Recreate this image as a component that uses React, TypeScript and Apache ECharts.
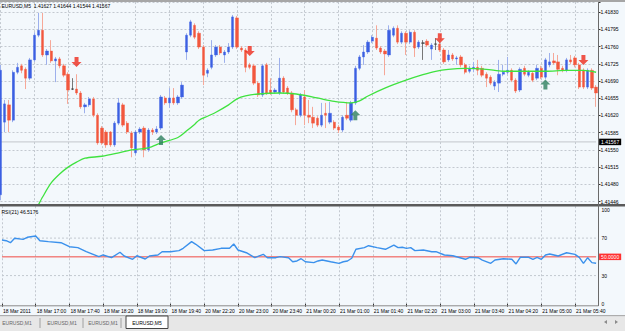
import React, { useEffect, useRef } from 'react';
import * as echarts from 'echarts';

// ---- Instrument / header ----
const SYMBOL = 'EURUSD,M5';
const LAST_OHLC = ['1.41627', '1.41644', '1.41544', '1.41567'];
const BID_PRICE = 1.41567;
const RSI_TITLE = 'RSI(21)';
const RSI_LAST = '46.5176';
const RSI_LEVEL = 50;

// ---- Axes ----
const TIME_LABELS = [
  '18 Mar 2011', '18 Mar 17:00', '18 Mar 17:40', '18 Mar 18:20', '18 Mar 19:00', '18 Mar 19:40',
  '20 Mar 22:20', '20 Mar 23:00', '20 Mar 23:40', '21 Mar 00:20', '21 Mar 01:00', '21 Mar 01:40',
  '21 Mar 02:20', '21 Mar 03:00', '21 Mar 03:40', '21 Mar 04:20', '21 Mar 05:00', '21 Mar 05:40',
];
const BARS_PER_LABEL = 8;
const PRICE_TICK_LABELS = [
  '1.41446', '1.41480', '1.41515', '1.41550', '1.41585', '1.41620',
  '1.41655', '1.41690', '1.41725', '1.41760', '1.41795', '1.41830',
];
const PRICE_BASE = 1.41446; // lowest labelled level
const PRICE_STEP = 34.9; // points between labelled levels
const PRICE_TOP = 404; // points above base at panel top
const RSI_TICK_LABELS = [0, 30, 70, 100];
const RSI_DASHED_LEVELS = [30, 70];

// ---- 5-minute bars ----
const OPEN = [
  1.41460, 1.41607, 1.41642, 1.41611, 1.41708, 1.41721, 1.41714, 1.41696, 1.41733, 1.41783,
  1.41793, 1.41743, 1.41751, 1.41731, 1.41735, 1.41721, 1.41704, 1.41674, 1.41674, 1.41666,
  1.41638, 1.41642, 1.41654, 1.41621, 1.41595, 1.41587, 1.41587, 1.41561, 1.41605, 1.41642,
  1.41605, 1.41585, 1.41545, 1.41587, 1.41595, 1.41551, 1.41591, 1.41587, 1.41595, 1.41656,
  1.41646, 1.41656, 1.41646, 1.41658, 1.41749, 1.41783, 1.41803, 1.41787, 1.41759, 1.41706,
  1.41718, 1.41743, 1.41759, 1.41743, 1.41749, 1.41759, 1.41818, 1.41757, 1.41753, 1.41723,
  1.41721, 1.41686, 1.41662, 1.41723, 1.41672, 1.41668, 1.41666, 1.41696, 1.41676, 1.41666,
  1.41632, 1.41621, 1.41658, 1.41621, 1.41617, 1.41615, 1.41601, 1.41625, 1.41607, 1.41607,
  1.41597, 1.41591, 1.41621, 1.41611, 1.41646, 1.41716, 1.41739, 1.41749, 1.41771, 1.41777,
  1.41757, 1.41751, 1.41743, 1.41783, 1.41797, 1.41769, 1.41787, 1.41769, 1.41789, 1.41759,
  1.41767, 1.41771, 1.41755, 1.41765, 1.41765, 1.41753, 1.41733, 1.41743, 1.41735, 1.41739,
  1.41723, 1.41710, 1.41716, 1.41718, 1.41716, 1.41704, 1.41698, 1.41680, 1.41686, 1.41704,
  1.41708, 1.41712, 1.41692, 1.41672, 1.41716, 1.41702, 1.41706, 1.41696, 1.41716, 1.41698,
  1.41723, 1.41731, 1.41729, 1.41716, 1.41712, 1.41733, 1.41737, 1.41723, 1.41712, 1.41678,
  1.41712, 1.41678,
];
const HIGH = [
  1.41723, 1.41652, 1.41652, 1.41712, 1.41727, 1.41725, 1.41718, 1.41737, 1.41789, 1.41828,
  1.41828, 1.41755, 1.41773, 1.41739, 1.41739, 1.41725, 1.41708, 1.41696, 1.41704, 1.41670,
  1.41646, 1.41658, 1.41658, 1.41625, 1.41599, 1.41591, 1.41589, 1.41609, 1.41656, 1.41646,
  1.41609, 1.41589, 1.41591, 1.41597, 1.41599, 1.41595, 1.41595, 1.41599, 1.41662, 1.41660,
  1.41676, 1.41676, 1.41662, 1.41688, 1.41787, 1.41814, 1.41807, 1.41791, 1.41763, 1.41716,
  1.41773, 1.41763, 1.41763, 1.41753, 1.41767, 1.41824, 1.41822, 1.41761, 1.41757, 1.41727,
  1.41725, 1.41690, 1.41725, 1.41727, 1.41696, 1.41676, 1.41737, 1.41700, 1.41680, 1.41670,
  1.41636, 1.41666, 1.41672, 1.41652, 1.41638, 1.41619, 1.41646, 1.41646, 1.41648, 1.41611,
  1.41601, 1.41621, 1.41648, 1.41650, 1.41721, 1.41743, 1.41763, 1.41773, 1.41783, 1.41803,
  1.41761, 1.41755, 1.41803, 1.41801, 1.41803, 1.41791, 1.41791, 1.41793, 1.41793, 1.41773,
  1.41773, 1.41775, 1.41767, 1.41777, 1.41769, 1.41757, 1.41753, 1.41747, 1.41741, 1.41743,
  1.41727, 1.41721, 1.41729, 1.41733, 1.41721, 1.41708, 1.41702, 1.41692, 1.41733, 1.41723,
  1.41739, 1.41716, 1.41696, 1.41718, 1.41721, 1.41712, 1.41710, 1.41723, 1.41721, 1.41737,
  1.41747, 1.41747, 1.41743, 1.41721, 1.41737, 1.41743, 1.41741, 1.41727, 1.41716, 1.41716,
  1.41716, 1.41682,
];
const LOW = [
  1.41449, 1.41587, 1.41587, 1.41607, 1.41704, 1.41706, 1.41674, 1.41692, 1.41729, 1.41779,
  1.41739, 1.41723, 1.41727, 1.41688, 1.41716, 1.41698, 1.41644, 1.41672, 1.41662, 1.41634,
  1.41625, 1.41638, 1.41617, 1.41561, 1.41561, 1.41555, 1.41557, 1.41557, 1.41601, 1.41597,
  1.41583, 1.41536, 1.41540, 1.41583, 1.41536, 1.41547, 1.41581, 1.41583, 1.41591, 1.41642,
  1.41636, 1.41642, 1.41642, 1.41654, 1.41733, 1.41779, 1.41775, 1.41755, 1.41682, 1.41698,
  1.41714, 1.41739, 1.41743, 1.41727, 1.41745, 1.41755, 1.41755, 1.41749, 1.41708, 1.41714,
  1.41682, 1.41658, 1.41658, 1.41662, 1.41662, 1.41664, 1.41662, 1.41664, 1.41662, 1.41627,
  1.41601, 1.41617, 1.41601, 1.41605, 1.41595, 1.41597, 1.41597, 1.41595, 1.41603, 1.41591,
  1.41585, 1.41587, 1.41611, 1.41607, 1.41642, 1.41712, 1.41723, 1.41745, 1.41767, 1.41753,
  1.41745, 1.41702, 1.41739, 1.41779, 1.41765, 1.41765, 1.41743, 1.41765, 1.41739, 1.41755,
  1.41733, 1.41759, 1.41733, 1.41753, 1.41749, 1.41725, 1.41729, 1.41731, 1.41723, 1.41718,
  1.41704, 1.41706, 1.41708, 1.41702, 1.41698, 1.41678, 1.41682, 1.41672, 1.41668, 1.41700,
  1.41704, 1.41688, 1.41666, 1.41668, 1.41700, 1.41698, 1.41688, 1.41692, 1.41694, 1.41694,
  1.41718, 1.41723, 1.41702, 1.41708, 1.41708, 1.41725, 1.41718, 1.41674, 1.41674, 1.41674,
  1.41672, 1.41638,
];
const CLOSE = [
  1.41712, 1.41644, 1.41611, 1.41708, 1.41718, 1.41712, 1.41696, 1.41733, 1.41783, 1.41793,
  1.41743, 1.41751, 1.41731, 1.41735, 1.41721, 1.41702, 1.41672, 1.41674, 1.41666, 1.41638,
  1.41642, 1.41654, 1.41621, 1.41565, 1.41565, 1.41561, 1.41561, 1.41605, 1.41646, 1.41601,
  1.41587, 1.41555, 1.41587, 1.41593, 1.41551, 1.41591, 1.41587, 1.41593, 1.41658, 1.41646,
  1.41656, 1.41646, 1.41658, 1.41682, 1.41783, 1.41810, 1.41779, 1.41759, 1.41702, 1.41712,
  1.41743, 1.41759, 1.41747, 1.41749, 1.41759, 1.41820, 1.41759, 1.41753, 1.41718, 1.41718,
  1.41686, 1.41662, 1.41721, 1.41666, 1.41666, 1.41672, 1.41696, 1.41668, 1.41666, 1.41632,
  1.41621, 1.41662, 1.41621, 1.41617, 1.41605, 1.41601, 1.41621, 1.41621, 1.41625, 1.41595,
  1.41591, 1.41617, 1.41615, 1.41646, 1.41716, 1.41739, 1.41749, 1.41769, 1.41779, 1.41757,
  1.41749, 1.41745, 1.41793, 1.41797, 1.41769, 1.41787, 1.41769, 1.41789, 1.41757, 1.41769,
  1.41767, 1.41763, 1.41763, 1.41765, 1.41753, 1.41729, 1.41743, 1.41735, 1.41737, 1.41723,
  1.41708, 1.41716, 1.41718, 1.41712, 1.41702, 1.41696, 1.41686, 1.41688, 1.41704, 1.41708,
  1.41712, 1.41692, 1.41670, 1.41714, 1.41704, 1.41708, 1.41692, 1.41716, 1.41698, 1.41733,
  1.41729, 1.41727, 1.41714, 1.41712, 1.41733, 1.41729, 1.41723, 1.41678, 1.41678, 1.41712,
  1.41676, 1.41666,
];

// ---- Moving average (bar index, price) ----
const MA_POINTS: [number, number][] = [
  [9, 1.41440], [10, 1.41456], [12, 1.41484], [14, 1.41502], [16, 1.41516], [18, 1.41526],
  [20, 1.41534], [24, 1.41538], [28, 1.41545], [31, 1.41551], [35, 1.41555], [38, 1.41565],
  [42, 1.41576], [44, 1.41589], [46, 1.41603], [47, 1.41611], [49, 1.41619], [51, 1.41627],
  [54, 1.41642], [56, 1.41654], [58, 1.41660], [61, 1.41664], [66, 1.41666], [70, 1.41664],
  [75, 1.41656], [79, 1.41649], [83, 1.41646], [85, 1.41650], [87, 1.41660], [91, 1.41676],
  [96, 1.41692], [100, 1.41703], [103, 1.41710], [106, 1.41714], [110, 1.41716], [115, 1.41714],
  [119, 1.41710], [124, 1.41710], [129, 1.41710], [134, 1.41712], [138, 1.41712], [141, 1.41708],
];

// ---- Signal arrows (bar index, price) ----
const SELL_ARROWS: [number, number][] = [[18, 1.41729], [59, 1.41751], [104, 1.41777], [138, 1.41733]];
const BUY_ARROWS: [number, number][] = [[38, 1.41571], [84, 1.41621], [129, 1.41683]];

// ---- RSI (bar index, value) ----
const RSI_POINTS: [number, number][] = [
  [0, 68.0], [1, 67.2], [2, 65.1], [3, 69.8], [5, 68.7], [6, 70.9], [8, 72.3], [9, 67.2],
  [11, 66.2], [14, 65.1], [16, 60.8], [18, 59.8], [20, 55.5], [23, 50.2], [24, 52.0], [26, 49.1],
  [28, 54.9], [29, 50.9], [31, 47.4], [32, 51.2], [34, 47.7], [35, 50.9], [37, 52.0], [38, 55.5],
  [40, 55.5], [42, 56.6], [43, 59.1], [45, 66.2], [46, 63.4], [48, 56.6], [50, 57.3], [52, 59.1],
  [54, 59.1], [55, 63.7], [56, 57.3], [58, 54.4], [60, 49.1], [62, 52.7], [63, 49.1], [65, 49.1],
  [66, 50.2], [68, 49.1], [69, 44.8], [70, 45.6], [71, 48.0], [72, 44.8], [74, 43.8], [75, 45.6],
  [76, 46.6], [78, 44.8], [80, 43.1], [81, 44.8], [82, 45.6], [83, 48.5], [84, 58.1], [86, 59.8],
  [87, 61.9], [89, 59.8], [91, 58.1], [93, 62.6], [94, 59.8], [95, 60.2], [96, 59.1], [97, 59.8],
  [98, 56.6], [100, 57.3], [102, 55.5], [103, 55.5], [105, 52.0], [107, 51.2], [110, 47.4], [111, 49.5],
  [113, 49.1], [114, 46.6], [116, 43.1], [117, 46.6], [119, 48.0], [121, 47.4], [122, 42.4], [123, 49.5],
  [125, 49.5], [126, 47.4], [127, 49.5], [128, 47.4], [129, 52.0], [130, 53.0], [132, 50.9], [134, 54.4],
  [136, 52.7], [137, 49.5], [138, 43.1], [139, 49.1], [140, 43.8], [141, 43.1],
];

const TABS = ['EURUSD,M1', 'EURUSD,M1', 'EURUSD,M1', 'EURUSD,M5'];

// ---- Styling ----
const BG = '#f3f8fc';
const FONT = '"Liberation Sans", Arial, sans-serif';
const GRID_COLOR = '#c3c9d0';
const GRID_LINE = { color: GRID_COLOR, width: 1, type: [2, 2] as number[] };
const BULL = '#3b5fe2';
const BEAR = '#f2573d';
const BULL_WICK = '#9db0ec';
const BEAR_WICK = '#f6a898';
const DOJI = '#4a4a4a';
const LEVEL_RED = '#f04a44';

const toPts = (p: number) => Math.round((p - PRICE_BASE) * 1e6) / 10;

const ARROW_DOWN = 'path://M3,0 L7,0 L7,5 L10,5 L5,10 L0,5 L3,5 Z';
const ARROW_UP = 'path://M5,0 L10,5 L7,5 L7,10 L3,10 L3,5 L0,5 Z';

function buildOption() {
  const n = OPEN.length;
  const cats = OPEN.map((_, i) => String(i));
  const isDoji = (i: number) => OPEN[i] === CLOSE[i];
  // a horizontal level spanning every bar
  const span = (v: number) => [[0, v], [n - 1, v]];

  const wickData = OPEN.map((o, i) => {
    const v = [toPts(o), toPts(CLOSE[i]), toPts(LOW[i]), toPts(HIGH[i])];
    return isDoji(i)
      ? { value: v, itemStyle: { color: DOJI, color0: DOJI, borderColor: '#777', borderColor0: '#777' } }
      : v;
  });
  const bodyData = OPEN.map((o, i) => {
    const a = toPts(o);
    const b = toPts(CLOSE[i]);
    const v = [a, b, Math.min(a, b), Math.max(a, b)];
    return isDoji(i)
      ? { value: v, itemStyle: { color: DOJI, color0: DOJI, borderColor: DOJI, borderColor0: DOJI, borderWidth: 1 } }
      : v;
  });

  const priceLabel = (v: number) => {
    const k = Math.round(v / PRICE_STEP);
    if (Math.abs(v - k * PRICE_STEP) > 0.05 || k < 0 || k >= PRICE_TICK_LABELS.length) return '';
    return PRICE_TICK_LABELS[k];
  };
  const rsiLabel = (v: number) => {
    const r = Math.round(v);
    return Math.abs(v - r) < 0.01 && RSI_TICK_LABELS.includes(r) ? String(r) : '';
  };
  const timeLabel = (_: string, idx: number) =>
    idx % BARS_PER_LABEL === 0 ? TIME_LABELS[idx / BARS_PER_LABEL] ?? '' : '';

  const small = { fontSize: 5, fontFamily: FONT, color: '#000' };
  const boxLabel = (text: string, bg: string) => ({
    show: true, distance: 3, formatter: text,
    backgroundColor: bg, color: '#fff', fontSize: 5, fontFamily: FONT, padding: [1, 2, 0.5, 2],
  });
  const plotLeft = 0.5;
  const plotWidth = 595.6;

  return {
    animation: false,
    textStyle: { fontFamily: FONT },
    grid: [
      { left: plotLeft, width: plotWidth, top: 2.1, height: 199.6 },
      { left: plotLeft, width: plotWidth, top: 206.25, height: 97.45 },
    ],
    xAxis: [
      {
        type: 'category', gridIndex: 0, data: cats, boundaryGap: false,
        axisLine: { show: false }, axisTick: { show: false },
        axisLabel: { show: false, interval: BARS_PER_LABEL - 1 },
        splitLine: { show: true, interval: BARS_PER_LABEL - 1, lineStyle: GRID_LINE },
      },
      {
        type: 'category', gridIndex: 1, data: cats, boundaryGap: false, offset: 2.3,
        axisLine: { show: false },
        axisTick: { show: true, interval: BARS_PER_LABEL - 1, length: 3, lineStyle: { color: '#333', width: 1 } },
        axisLabel: { ...small, interval: BARS_PER_LABEL - 1, align: 'left', margin: 2.5, padding: [0, 0, 0, 1], formatter: timeLabel },
        splitLine: { show: true, interval: BARS_PER_LABEL - 1, lineStyle: GRID_LINE },
      },
    ],
    yAxis: [
      {
        type: 'value', gridIndex: 0, position: 'right', offset: 2.4,
        min: 0, max: PRICE_TOP, interval: PRICE_STEP,
        axisLine: { show: false },
        axisTick: { show: true, length: 2, lineStyle: { color: '#333' } },
        axisLabel: { ...small, margin: 2, formatter: priceLabel },
        splitLine: { show: true, lineStyle: GRID_LINE },
      },
      {
        type: 'value', gridIndex: 1, position: 'right', offset: 2.4,
        min: 0, max: 104, interval: 10,
        axisLine: { show: false }, axisTick: { show: false },
        axisLabel: { ...small, margin: 3, formatter: rsiLabel },
        splitLine: { show: false },
      },
    ],
    series: [
      {
        // current bid level
        name: 'bid', type: 'line', xAxisIndex: 0, yAxisIndex: 0, z: 1,
        data: span(toPts(BID_PRICE)), showSymbol: false, silent: true,
        lineStyle: { color: '#c2c6cb', width: 1 },
        endLabel: boxLabel(BID_PRICE.toFixed(5), '#000'),
      },
      {
        name: 'wicks', type: 'candlestick', xAxisIndex: 0, yAxisIndex: 0, data: wickData,
        barWidth: 1, clip: false, z: 2,
        itemStyle: { color: BULL_WICK, color0: BEAR_WICK, borderColor: BULL_WICK, borderColor0: BEAR_WICK, borderWidth: 1 },
      },
      {
        name: 'bodies', type: 'candlestick', xAxisIndex: 0, yAxisIndex: 0, data: bodyData,
        barWidth: 2.8, clip: false, z: 3,
        itemStyle: { color: BULL, color0: BEAR, borderColor: BULL, borderColor0: BEAR, borderWidth: 0.4 },
      },
      {
        name: 'MA', type: 'line', xAxisIndex: 0, yAxisIndex: 0, clip: false, z: 4,
        data: MA_POINTS.map(([i, p]) => [i, toPts(p)]),
        showSymbol: false, smooth: 0.3,
        lineStyle: { color: '#3fe23f', width: 1.3 },
      },
      {
        name: 'sell', type: 'scatter', xAxisIndex: 0, yAxisIndex: 0, z: 5,
        data: SELL_ARROWS.map(([i, p]) => [i, toPts(p)]),
        symbol: ARROW_DOWN, symbolSize: [10, 10], itemStyle: { color: '#ee2a1c' },
      },
      {
        name: 'buy', type: 'scatter', xAxisIndex: 0, yAxisIndex: 0, z: 5,
        data: BUY_ARROWS.map(([i, p]) => [i, toPts(p)]),
        symbol: ARROW_UP, symbolSize: [10, 10], itemStyle: { color: '#2d7f5e' },
      },
      ...RSI_DASHED_LEVELS.map((lv) => ({
        name: `level ${lv}`, type: 'line', xAxisIndex: 1, yAxisIndex: 1, z: 1,
        data: span(lv), showSymbol: false, silent: true,
        lineStyle: { color: GRID_COLOR, width: 1, type: [2, 2] },
      })),
      {
        name: `level ${RSI_LEVEL}`, type: 'line', xAxisIndex: 1, yAxisIndex: 1, z: 2,
        data: span(RSI_LEVEL), showSymbol: false, silent: true,
        lineStyle: { color: LEVEL_RED, width: 1, type: 'solid' },
        endLabel: boxLabel(RSI_LEVEL.toFixed(4), '#ff3030'),
      },
      {
        name: 'RSI', type: 'line', xAxisIndex: 1, yAxisIndex: 1, z: 4,
        data: RSI_POINTS,
        showSymbol: false,
        lineStyle: { color: '#3b91ec', width: 1.4 },
      },
    ],
    graphic: [
      { type: 'rect', z: 100, shape: { x: 0, y: 0, width: 625, height: 2 }, style: { fill: '#a6a6a6' } },
      { type: 'rect', z: 100, shape: { x: 0, y: 204, width: 625, height: 2.5 }, style: { fill: '#5a5a5a' } },
      { type: 'line', z: 100, shape: { x1: 598.5, y1: 2, x2: 598.5, y2: 306 }, style: { stroke: '#6a6a6a', lineWidth: 1 } },
      { type: 'line', z: 100, shape: { x1: 0, y1: 305.8, x2: 598.5, y2: 305.8 }, style: { stroke: '#8a8a8a', lineWidth: 1 } },
      { type: 'rect', z: 100, shape: { x: 0, y: 315, width: 625, height: 1.5 }, style: { fill: '#adadad' } },
      { type: 'rect', z: 100, shape: { x: 0, y: 316.5, width: 625, height: 14.5 }, style: { fill: '#e7e7e7' } },
      ...[40, 83, 121].map((x) => ({
        type: 'line', z: 101, shape: { x1: x, y1: 318, x2: x, y2: 328 }, style: { stroke: '#a0a0a0', lineWidth: 1 },
      })),
      { type: 'rect', z: 101, shape: { x: 126, y: 316, width: 42, height: 12.5 }, style: { fill: '#ffffff', stroke: '#444', lineWidth: 1 } },
      ...TABS.map((t, i) => ({
        type: 'text', z: 102,
        style: {
          text: t, x: [17, 62, 103, 147][i], y: 323, align: 'center', verticalAlign: 'middle',
          font: `5px ${FONT}`, fill: i === TABS.length - 1 ? '#000' : '#666',
        },
      })),
      { type: 'polygon', z: 102, shape: { points: [[604, 322], [607, 320], [607, 324]] }, style: { fill: '#8a8a8a' } },
      { type: 'polygon', z: 102, shape: { points: [[618, 322], [615, 320], [615, 324]] }, style: { fill: '#8a8a8a' } },
      {
        type: 'text', z: 102,
        style: { text: `${SYMBOL}  ${LAST_OHLC.join(' ')}`, x: 1.5, y: 5.5, verticalAlign: 'middle', font: `5px ${FONT}`, fill: '#000' },
      },
      {
        type: 'text', z: 102,
        style: { text: `${RSI_TITLE} ${RSI_LAST}`, x: 1.5, y: 212, verticalAlign: 'middle', font: `5px ${FONT}`, fill: '#000' },
      },
    ],
  };
}

export default function App() {
  const ref = useRef<HTMLDivElement>(null);
  useEffect(() => {
    const el = ref.current;
    if (!el) return;
    const chart = echarts.init(el, undefined, { renderer: 'svg' });
    chart.setOption(buildOption() as any);
    return () => chart.dispose();
  }, []);
  return (
    <div
      ref={ref}
      style={{ position: 'fixed', left: 0, top: 0, width: 625, height: 331, background: BG }}
    />
  );
}
